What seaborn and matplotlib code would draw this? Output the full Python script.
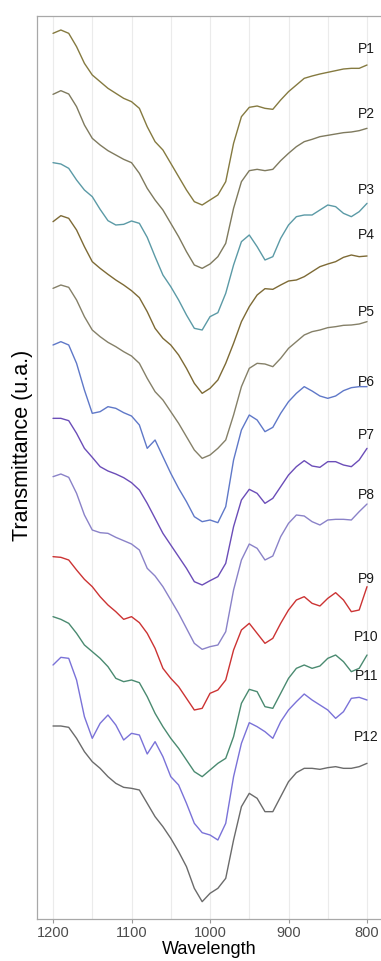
import numpy as np
import pandas as pd
import matplotlib
matplotlib.use("Agg")
import matplotlib.pyplot as plt
from matplotlib.ticker import MultipleLocator
import seaborn as sns

# ---------------- data ----------------
wavelength = list(range(1200, 799, -10))

p1 = [2900, 2910, 2900, 2860, 2810, 2775, 2755, 2735, 2720, 2705,
      2695, 2675, 2620, 2575, 2550, 2510, 2470, 2430, 2395, 2385,
      2400, 2415, 2455, 2570, 2650, 2678, 2682, 2675, 2672, 2700,
      2725, 2745, 2765, 2772, 2778, 2783, 2788, 2793, 2795, 2795, 2805]
p2 = [2717, 2728, 2718, 2680, 2625, 2585, 2565, 2548, 2535, 2522,
      2512, 2480, 2435, 2400, 2370, 2330, 2290, 2245, 2205, 2195,
      2208, 2230, 2270, 2375, 2455, 2488, 2492, 2488, 2492, 2518,
      2540, 2560, 2575, 2582, 2590, 2594, 2598, 2602, 2604, 2608, 2615]
p3 = [2512, 2508, 2495, 2460, 2430, 2410, 2372, 2338, 2325, 2327,
      2337, 2330, 2288, 2230, 2175, 2140, 2100, 2055, 2015, 2010,
      2050, 2062, 2120, 2205, 2275, 2295, 2260, 2220, 2230, 2285,
      2325, 2350, 2355, 2355, 2370, 2385, 2380, 2360, 2350, 2365, 2390]
p4 = [2335, 2353, 2345, 2310, 2260, 2215, 2195, 2177, 2160, 2145,
      2128, 2107, 2065, 2015, 1985, 1965, 1935, 1895, 1850, 1820,
      1835, 1860, 1910, 1970, 2035, 2080, 2115, 2134, 2132, 2145,
      2157, 2160, 2170, 2185, 2200, 2208, 2215, 2228, 2235, 2230, 2232]
p5 = [2135, 2145, 2138, 2100, 2050, 2010, 1990, 1973, 1960, 1945,
      1932, 1910, 1865, 1825, 1800, 1765, 1730, 1690, 1650, 1625,
      1635, 1655, 1680, 1755, 1840, 1895, 1910, 1908, 1900, 1925,
      1955, 1975, 1995, 2005, 2010, 2017, 2020, 2024, 2025, 2028, 2035]
p6 = [1965, 1975, 1965, 1910, 1830, 1760, 1765, 1780, 1775, 1762,
      1752, 1725, 1655, 1680, 1630, 1580, 1535, 1495, 1450, 1435,
      1440, 1432, 1480, 1620, 1710, 1755, 1740, 1705, 1718, 1760,
      1795, 1820, 1840, 1827, 1812, 1805, 1812, 1828, 1837, 1840, 1840]
p7 = [1745, 1745, 1738, 1700, 1655, 1628, 1600, 1587, 1578, 1567,
      1552, 1530, 1490, 1445, 1400, 1365, 1330, 1295, 1255, 1245,
      1258, 1270, 1310, 1420, 1500, 1532, 1520, 1490, 1505, 1540,
      1575, 1600, 1618, 1602, 1598, 1615, 1615, 1605, 1600, 1620, 1655]
p8 = [1570, 1578, 1568, 1520, 1455, 1410, 1402, 1400, 1388, 1378,
      1368, 1350, 1295, 1272, 1240, 1200, 1160, 1115, 1070, 1052,
      1060, 1065, 1105, 1230, 1320, 1368, 1355, 1320, 1332, 1390,
      1430, 1455, 1452, 1435, 1425, 1440, 1442, 1442, 1440, 1465, 1488]
p9 = [1330, 1328, 1320, 1290, 1262, 1240, 1210, 1185, 1165, 1142,
      1150, 1132, 1100, 1055, 995, 965, 940, 905, 870, 875,
      920, 930, 960, 1050, 1110, 1130, 1100, 1070, 1085, 1130,
      1170, 1200, 1210, 1190, 1182, 1205, 1222, 1200, 1165, 1170, 1240]
p10 = [1150, 1142, 1130, 1100, 1065, 1045, 1025, 1000, 965, 955,
       960, 952, 910, 860, 820, 785, 755, 720, 685, 670,
       690, 710, 725, 790, 890, 932, 925, 880, 875, 920,
       965, 995, 1005, 995, 1002, 1025, 1035, 1015, 985, 995, 1035]
p11 = [1005, 1028, 1025, 960, 850, 785, 830, 855, 825, 780,
       800, 795, 738, 775, 730, 670, 645, 590, 530, 502,
       495, 480, 530, 670, 770, 832, 820, 805, 785, 835,
       870, 895, 918, 900, 885, 870, 845, 865, 905, 908, 900]
p12 = [822, 822, 818, 785, 745, 715, 695, 670, 650, 638,
       635, 630, 590, 550, 520, 485, 445, 400, 335, 295,
       320, 335, 365, 480, 580, 620, 605, 565, 565, 610,
       655, 682, 695, 695, 692, 697, 700, 695, 695, 700, 710]

samples = ["P1", "P2", "P3", "P4", "P5", "P6",
           "P7", "P8", "P9", "P10", "P11", "P12"]
spectra = [p1, p2, p3, p4, p5, p6, p7, p8, p9, p10, p11, p12]
label_wavelength = 801
label_y = [2853, 2658, 2430, 2295, 2064, 1854, 1695, 1515, 1263, 1089, 972, 789]
colors = ["#857a40", "#7f7a5e", "#5b9aa6", "#7d6a35", "#858068", "#5f78c8",
          "#6b4db8", "#8a82c8", "#cc3333", "#4a8a70", "#7a72d8", "#6b6b6b"]

x_ticks = [1200, 1100, 1000, 900, 800]

# ---------------- plot ----------------
sns.set_theme(style="white")
plt.rcParams['font.family'] = ['Liberation Sans', 'DejaVu Sans']

df = pd.concat(
    [pd.DataFrame({"Wavelength": wavelength, "Transmittance": vals, "Sample": name})
     for name, vals in zip(samples, spectra)],
    ignore_index=True)

fig = plt.figure(figsize=(3.81, 9.61), dpi=100)
ax = fig.add_axes([37 / 381, 42 / 961, 344 / 381, 903 / 961])

sns.lineplot(data=df, x="Wavelength", y="Transmittance", hue="Sample",
             hue_order=samples, palette=dict(zip(samples, colors)),
             estimator=None, legend=False, linewidth=1.0, ax=ax,
             solid_joinstyle="round", solid_capstyle="round")

for name, yv in zip(samples, label_y):
    ax.text(label_wavelength, yv, name, ha="center", va="center",
            fontsize=10, color="#1a1a1a")

ax.set_xlim(1220.4, 782.2)
ax.set_ylim(243, 2952)
ax.set_xticks(x_ticks)
ax.xaxis.set_minor_locator(MultipleLocator(50))
ax.set_yticks([])
ax.grid(axis="x", which="both", color="#ebebeb", linewidth=0.8)
ax.set_axisbelow(True)
ax.tick_params(axis="x", which="major", length=3, width=0.8, color="#9a9a9a",
               labelsize=10.5, labelcolor="#4d4d4d", pad=2, bottom=True)
ax.tick_params(axis="x", which="minor", length=0)

for side in ["left", "bottom", "top"]:
    ax.spines[side].set_visible(True)
    ax.spines[side].set_color("#a8a8a8")
    ax.spines[side].set_linewidth(0.9)
ax.spines["right"].set_visible(False)

ax.set_xlabel("Wavelength", fontsize=13, color="black", labelpad=1)
ax.set_ylabel("Transmittance (u.a.)", fontsize=15.5, color="black", va="center")
ax.yaxis.set_label_coords(-0.0407, 0.525)

fig.savefig("out.png", dpi=100)
